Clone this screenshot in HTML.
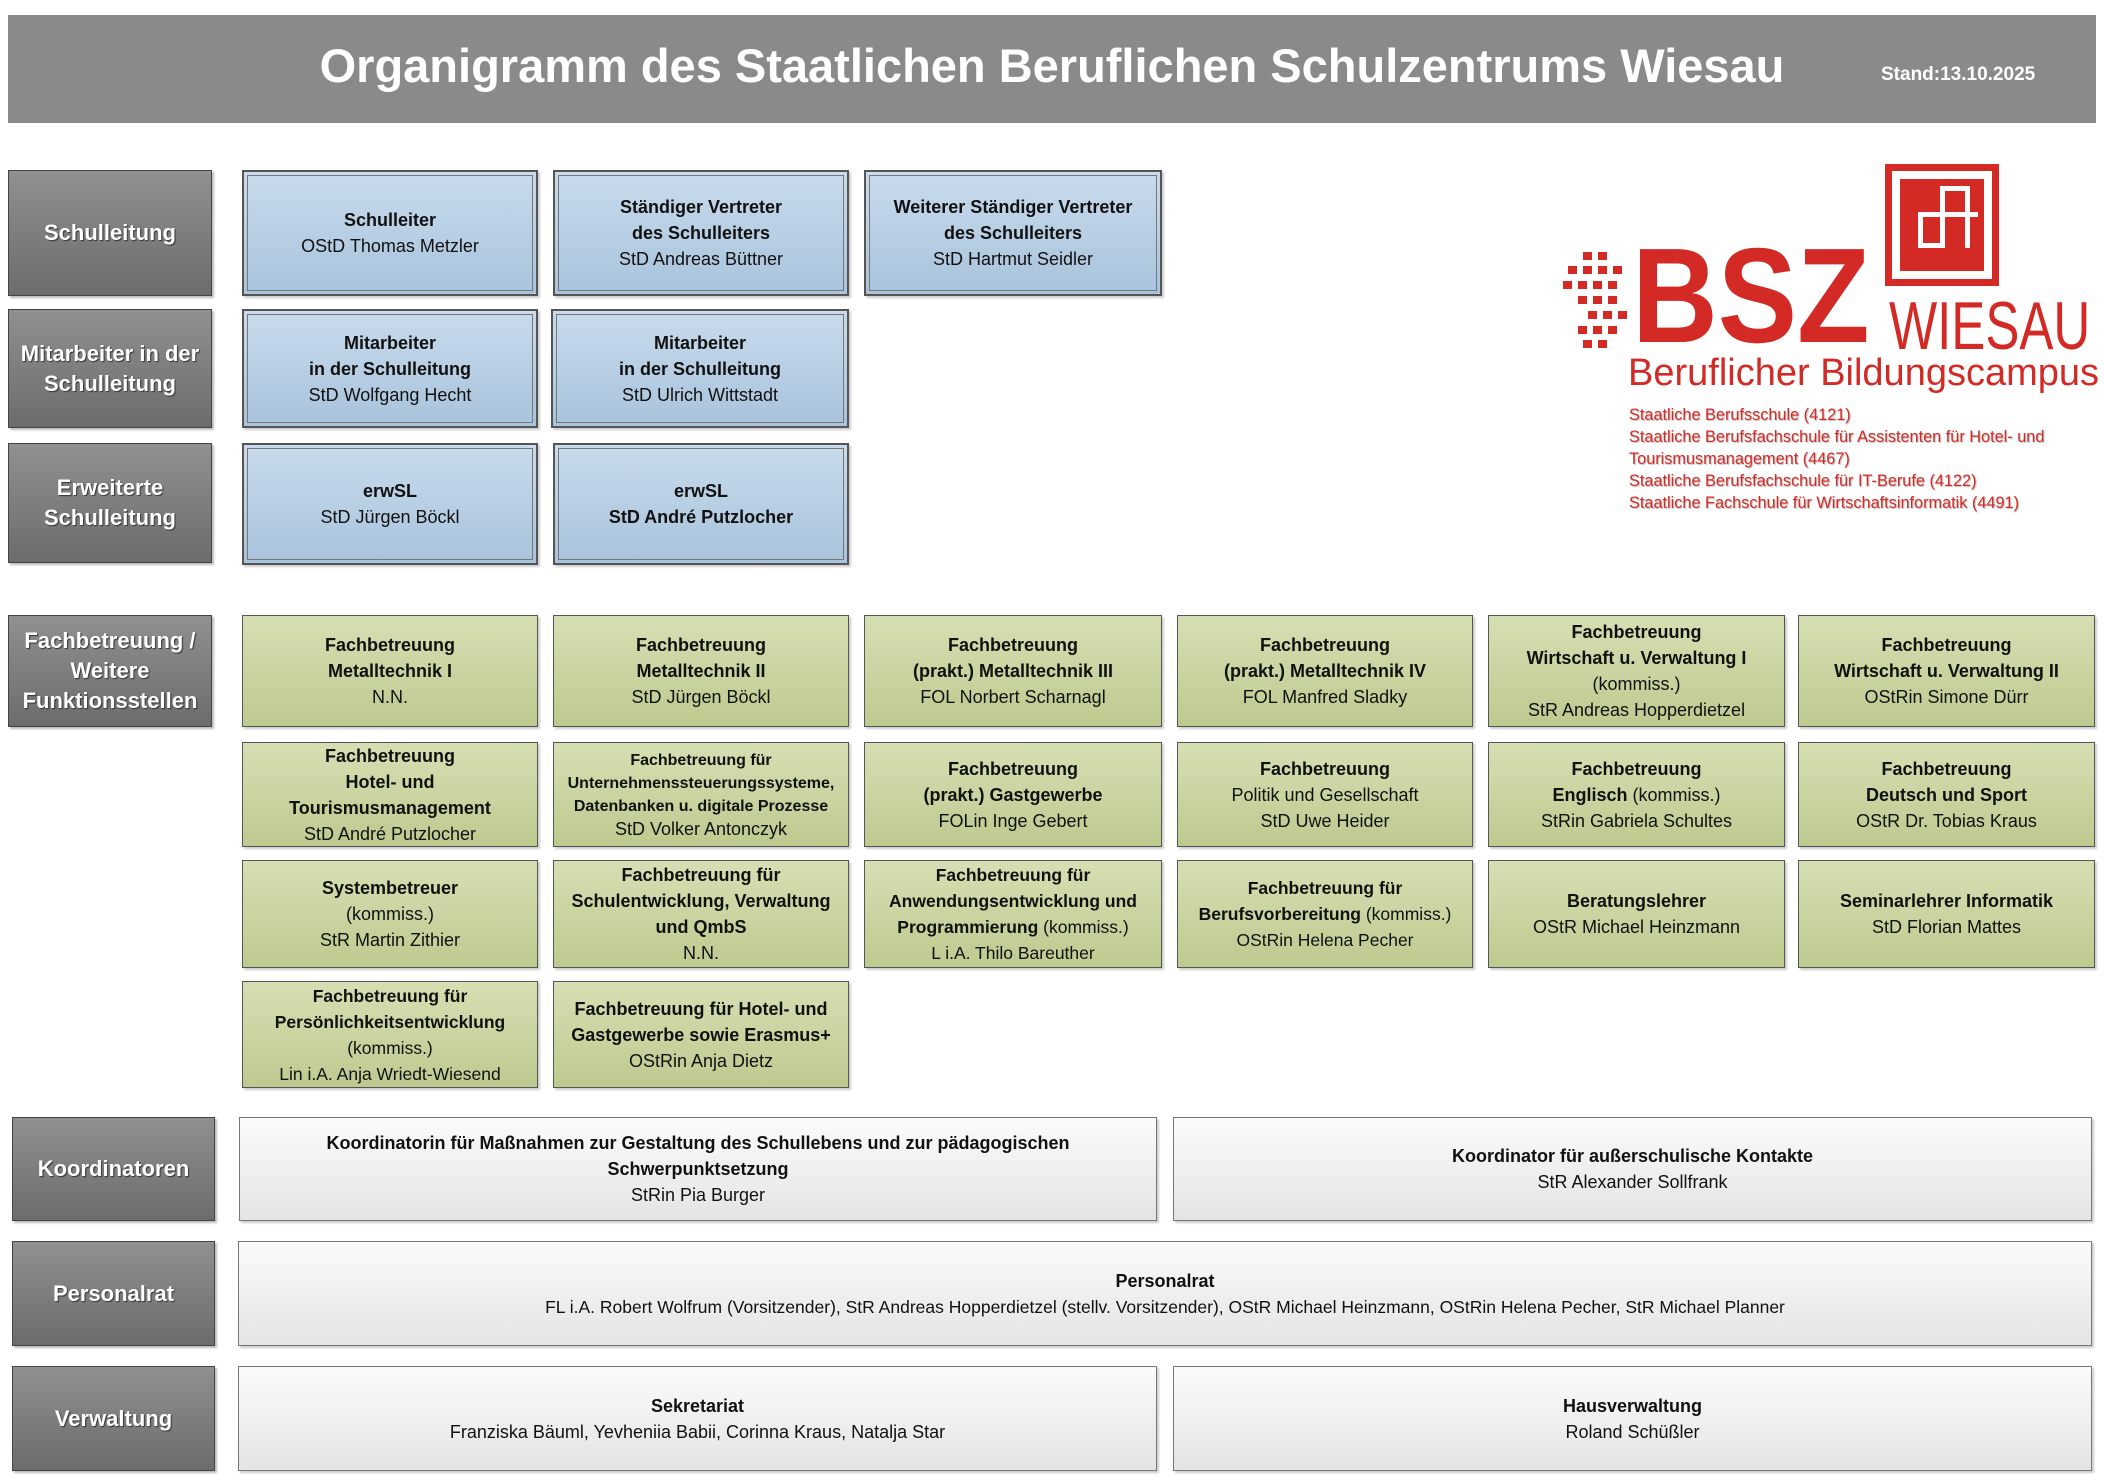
<!DOCTYPE html>
<html><head><meta charset="utf-8"><style>
*{margin:0;padding:0;box-sizing:border-box}
body{width:2104px;height:1482px;background:#fff;position:relative;overflow:hidden;font-family:"Liberation Sans",Arial,sans-serif;color:#111}
.b{position:absolute;display:flex;align-items:center;justify-content:center;text-align:center;flex-direction:column;font-size:18px;line-height:26px}
.l{background:linear-gradient(#909090,#6c6c6c);border:1px solid #444;color:#fff;font-weight:bold;font-size:22px;line-height:30px;box-shadow:2px 2px 2px #bbb;text-shadow:1px 1px 1px #333}
.bl{background:linear-gradient(#c9dbec,#a8c3dc);border:2px solid #555;outline:1px solid #777;outline-offset:-6px;box-shadow:2px 2px 2px #ccc}
.g{background:linear-gradient(#d6dfb3,#bdca8f);border:1px solid #555;box-shadow:2px 2px 2px #ccc}
.w{background:linear-gradient(#fbfbfb,#e4e4e4);border:1px solid #777;box-shadow:2px 2px 2px #ccc}
b{font-weight:bold}
.r{position:absolute;background:#d42a25}
</style></head><body>
<div class="b" style="left:8px;top:15px;width:2088px;height:108px;background:#8a8a8a;"></div>
<div style="position:absolute;left:0;top:38px;width:2104px;text-align:center;color:#fff;font-weight:bold;font-size:47px">Organigramm des Staatlichen Beruflichen Schulzentrums Wiesau</div>
<div style="position:absolute;left:1881px;top:64px;color:#fff;font-weight:bold;font-size:19px">Stand:13.10.2025</div>

<!-- logo -->
<div style="position:absolute;left:1885px;top:164px;width:114px;height:122px;border:7px solid #d42a25;"></div>
<div class="r" style="left:1900px;top:179px;width:84px;height:92px"></div>
<div style="position:absolute;left:1940px;top:186px;width:5px;height:60px;background:#fff"></div>
<div style="position:absolute;left:1918px;top:212px;width:60px;height:5px;background:#fff"></div>
<div style="position:absolute;left:1918px;top:212px;width:5px;height:36px;background:#fff"></div>
<div style="position:absolute;left:1918px;top:243px;width:27px;height:5px;background:#fff"></div>
<div style="position:absolute;left:1940px;top:186px;width:30px;height:5px;background:#fff"></div>
<div style="position:absolute;left:1965px;top:186px;width:5px;height:62px;background:#fff"></div>
<div style="position:absolute;left:1632px;top:228px;font-weight:bold;font-size:135px;line-height:1;color:#d42a25;transform-origin:0 0;transform:scaleX(0.88)">BSZ</div>
<div class="r" style="left:1583px;top:252px;width:9px;height:8px"></div>
<div class="r" style="left:1598px;top:252px;width:9px;height:8px"></div>
<div class="r" style="left:1568px;top:266px;width:9px;height:8px"></div>
<div class="r" style="left:1583px;top:266px;width:9px;height:8px"></div>
<div class="r" style="left:1598px;top:266px;width:9px;height:8px"></div>
<div class="r" style="left:1613px;top:266px;width:9px;height:8px"></div>
<div class="r" style="left:1563px;top:281px;width:9px;height:8px"></div>
<div class="r" style="left:1578px;top:281px;width:9px;height:8px"></div>
<div class="r" style="left:1593px;top:281px;width:9px;height:8px"></div>
<div class="r" style="left:1608px;top:281px;width:9px;height:8px"></div>
<div class="r" style="left:1578px;top:296px;width:9px;height:8px"></div>
<div class="r" style="left:1593px;top:296px;width:9px;height:8px"></div>
<div class="r" style="left:1608px;top:296px;width:9px;height:8px"></div>
<div class="r" style="left:1588px;top:311px;width:9px;height:8px"></div>
<div class="r" style="left:1603px;top:311px;width:9px;height:8px"></div>
<div class="r" style="left:1618px;top:311px;width:9px;height:8px"></div>
<div class="r" style="left:1578px;top:326px;width:9px;height:8px"></div>
<div class="r" style="left:1593px;top:326px;width:9px;height:8px"></div>
<div class="r" style="left:1608px;top:326px;width:9px;height:8px"></div>
<div class="r" style="left:1583px;top:340px;width:9px;height:8px"></div>
<div class="r" style="left:1598px;top:340px;width:9px;height:8px"></div>
<div style="position:absolute;left:1889px;top:292px;font-size:68px;line-height:1;color:#d42a25;transform-origin:0 0;transform:scaleX(0.75)">WIESAU</div>
<div style="position:absolute;left:1628px;top:351px;font-size:38px;line-height:44px;color:#d42a25">Beruflicher Bildungscampus</div>
<div style="position:absolute;left:1629px;top:404px;font-size:16.3px;line-height:22px;color:#d42a25;text-shadow:1px 1px 1px #bbb">Staatliche Berufsschule (4121)<br>Staatliche Berufsfachschule für Assistenten für Hotel- und<br>Tourismusmanagement (4467)<br>Staatliche Berufsfachschule für IT-Berufe (4122)<br>Staatliche Fachschule für Wirtschaftsinformatik (4491)</div>

<!-- left labels -->
<div class="b l" style="left:8px;top:170px;width:204px;height:126px">Schulleitung</div>
<div class="b l" style="left:8px;top:309px;width:204px;height:119px">Mitarbeiter in der<br>Schulleitung</div>
<div class="b l" style="left:8px;top:443px;width:204px;height:120px">Erweiterte<br>Schulleitung</div>
<div class="b l" style="left:8px;top:615px;width:204px;height:112px">Fachbetreuung /<br>Weitere<br>Funktionsstellen</div>
<div class="b l" style="left:12px;top:1117px;width:203px;height:104px">Koordinatoren</div>
<div class="b l" style="left:12px;top:1241px;width:203px;height:105px">Personalrat</div>
<div class="b l" style="left:12px;top:1366px;width:203px;height:105px">Verwaltung</div>

<!-- blue -->
<div class="b bl" style="left:242px;top:170px;width:296px;height:126px"><b>Schulleiter</b>OStD Thomas Metzler</div>
<div class="b bl" style="left:553px;top:170px;width:296px;height:126px"><b>Ständiger Vertreter<br>des Schulleiters</b>StD Andreas Büttner</div>
<div class="b bl" style="left:864px;top:170px;width:298px;height:126px"><b>Weiterer Ständiger Vertreter<br>des Schulleiters</b>StD Hartmut Seidler</div>
<div class="b bl" style="left:242px;top:309px;width:296px;height:119px"><b>Mitarbeiter<br>in der Schulleitung</b>StD Wolfgang Hecht</div>
<div class="b bl" style="left:551px;top:309px;width:298px;height:119px"><b>Mitarbeiter<br>in der Schulleitung</b>StD Ulrich Wittstadt</div>
<div class="b bl" style="left:242px;top:443px;width:296px;height:122px"><b>erwSL</b>StD Jürgen Böckl</div>
<div class="b bl" style="left:553px;top:443px;width:296px;height:122px"><b>erwSL<br>StD André Putzlocher</b></div>

<!-- green row1 -->
<div class="b g" style="left:242px;top:615px;width:296px;height:112px"><b>Fachbetreuung<br>Metalltechnik I</b>N.N.</div>
<div class="b g" style="left:553px;top:615px;width:296px;height:112px"><b>Fachbetreuung<br>Metalltechnik II</b>StD Jürgen Böckl</div>
<div class="b g" style="left:864px;top:615px;width:298px;height:112px"><b>Fachbetreuung<br>(prakt.) Metalltechnik III</b>FOL Norbert Scharnagl</div>
<div class="b g" style="left:1177px;top:615px;width:296px;height:112px"><b>Fachbetreuung<br>(prakt.) Metalltechnik IV</b>FOL Manfred Sladky</div>
<div class="b g" style="left:1488px;top:615px;width:297px;height:112px"><b>Fachbetreuung<br>Wirtschaft u. Verwaltung I</b>(kommiss.)<br>StR Andreas Hopperdietzel</div>
<div class="b g" style="left:1798px;top:615px;width:297px;height:112px"><b>Fachbetreuung<br>Wirtschaft u. Verwaltung II</b>OStRin Simone Dürr</div>
<!-- row2 -->
<div class="b g" style="left:242px;top:742px;width:296px;height:105px"><b>Fachbetreuung<br>Hotel- und<br>Tourismusmanagement</b>StD André Putzlocher</div>
<div class="b g" style="left:553px;top:742px;width:296px;height:105px;font-size:16px;line-height:23px"><b>Fachbetreuung für<br>Unternehmenssteuerungssysteme,<br>Datenbanken u. digitale Prozesse</b><span style="font-size:18px">StD Volker Antonczyk</span></div>
<div class="b g" style="left:864px;top:742px;width:298px;height:105px"><b>Fachbetreuung<br>(prakt.) Gastgewerbe</b>FOLin Inge Gebert</div>
<div class="b g" style="left:1177px;top:742px;width:296px;height:105px"><b>Fachbetreuung</b>Politik und Gesellschaft<br>StD Uwe Heider</div>
<div class="b g" style="left:1488px;top:742px;width:297px;height:105px"><b>Fachbetreuung</b><span><b>Englisch</b> (kommiss.)</span>StRin Gabriela Schultes</div>
<div class="b g" style="left:1798px;top:742px;width:297px;height:105px"><b>Fachbetreuung<br>Deutsch und Sport</b>OStR Dr. Tobias Kraus</div>
<!-- row3 -->
<div class="b g" style="left:242px;top:860px;width:296px;height:108px"><b>Systembetreuer</b>(kommiss.)<br>StR Martin Zithier</div>
<div class="b g" style="left:553px;top:860px;width:296px;height:108px"><b>Fachbetreuung für<br>Schulentwicklung, Verwaltung<br>und QmbS</b>N.N.</div>
<div class="b g" style="left:864px;top:860px;width:298px;height:108px;font-size:17.5px"><b>Fachbetreuung für<br>Anwendungsentwicklung und</b><span><b>Programmierung</b> (kommiss.)</span>L i.A. Thilo Bareuther</div>
<div class="b g" style="left:1177px;top:860px;width:296px;height:108px;font-size:17.5px"><b>Fachbetreuung für</b><span><b>Berufsvorbereitung</b> (kommiss.)</span>OStRin Helena Pecher</div>
<div class="b g" style="left:1488px;top:860px;width:297px;height:108px"><b>Beratungslehrer</b>OStR Michael Heinzmann</div>
<div class="b g" style="left:1798px;top:860px;width:297px;height:108px"><b>Seminarlehrer Informatik</b>StD Florian Mattes</div>
<!-- row4 -->
<div class="b g" style="left:242px;top:981px;width:296px;height:107px;font-size:17.5px"><b>Fachbetreuung für<br>Persönlichkeitsentwicklung</b>(kommiss.)<br>Lin i.A. Anja Wriedt-Wiesend</div>
<div class="b g" style="left:553px;top:981px;width:296px;height:107px"><b>Fachbetreuung für Hotel- und<br>Gastgewerbe sowie Erasmus+</b>OStRin Anja Dietz</div>

<!-- bottom -->
<div class="b w" style="left:239px;top:1117px;width:918px;height:104px"><b>Koordinatorin für Maßnahmen zur Gestaltung des Schullebens und zur pädagogischen<br>Schwerpunktsetzung</b>StRin Pia Burger</div>
<div class="b w" style="left:1173px;top:1117px;width:919px;height:104px"><b>Koordinator für außerschulische Kontakte</b>StR Alexander Sollfrank</div>
<div class="b w" style="left:238px;top:1241px;width:1854px;height:105px"><b>Personalrat</b><span style="font-size:17.5px">FL i.A. Robert Wolfrum (Vorsitzender), StR Andreas Hopperdietzel (stellv. Vorsitzender), OStR Michael Heinzmann, OStRin Helena Pecher, StR Michael Planner</span></div>
<div class="b w" style="left:238px;top:1366px;width:919px;height:105px"><b>Sekretariat</b>Franziska Bäuml, Yevheniia Babii, Corinna Kraus, Natalja Star</div>
<div class="b w" style="left:1173px;top:1366px;width:919px;height:105px"><b>Hausverwaltung</b>Roland Schüßler</div>
</body></html>
